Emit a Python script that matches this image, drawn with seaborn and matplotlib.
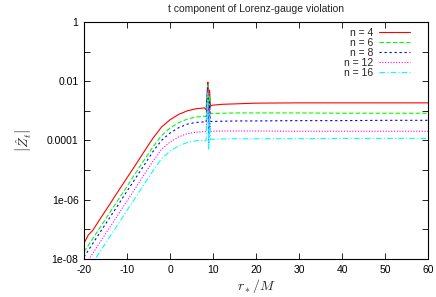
import numpy as np
import pandas as pd
import seaborn as sb
import matplotlib
matplotlib.use("Agg")
import matplotlib.pyplot as plt
from matplotlib.ticker import FixedLocator, NullFormatter

# r_*/M sample points
r = [-20, -19, -18, -16, -14, -12, -10, -8, -6, -4, -2, 0, 2, 4, 6, 8,
     8.4, 8.6, 8.8, 9.0, 9.2, 9.4, 9.8, 12, 16, 20, 30, 40, 50, 60]

# log10 |Z_t|
n4 = [-7.47, -7.19, -7.04, -6.59, -6.15, -5.70, -5.26, -4.82, -4.37, -3.93, -3.55, -3.30, -3.12, -3.00, -2.93, -2.90,
      -2.96, -2.45, -2.03, -3.55, -2.30, -2.85, -2.81, -2.78, -2.76, -2.74, -2.73, -2.73, -2.73, -2.73]
n6 = [-7.76, -7.54, -7.32, -6.88, -6.43, -5.99, -5.55, -5.10, -4.66, -4.22, -3.84, -3.58, -3.40, -3.28, -3.21, -3.18,
      -3.20, -2.60, -2.13, -3.70, -2.50, -3.10, -3.09, -3.08, -3.07, -3.07, -3.07, -3.08, -3.08, -3.08]
n8 = [-7.93, -7.71, -7.49, -7.04, -6.60, -6.16, -5.71, -5.27, -4.83, -4.38, -4.00, -3.75, -3.57, -3.45, -3.39, -3.37,
      -3.38, -2.80, -2.20, -3.90, -2.70, -3.36, -3.36, -3.35, -3.34, -3.34, -3.33, -3.33, -3.32, -3.32]
n12 = [-8.26, -8.04, -7.82, -7.37, -6.93, -6.49, -6.04, -5.60, -5.15, -4.71, -4.30, -4.05, -3.88, -3.77, -3.72, -3.70,
       -3.71, -3.00, -2.30, -4.10, -2.90, -3.69, -3.69, -3.68, -3.68, -3.68, -3.69, -3.69, -3.69, -3.69]
n16 = [-8.58, -8.36, -8.14, -7.69, -7.25, -6.81, -6.36, -5.92, -5.47, -5.03, -4.62, -4.36, -4.18, -4.07, -4.01, -3.99,
       -4.00, -3.20, -2.40, -4.32, -3.10, -3.96, -3.96, -3.95, -3.94, -3.94, -3.94, -3.93, -3.93, -3.93]

labels = ["n = 4", "n = 6", "n = 8", "n = 12", "n = 16"]
series = [n4, n6, n8, n12, n16]
colors = ["#ff0000", "#00ff00", "#0000ff", "#ff00ff", "#00ffff"]
dash_styles = ["", (4, 2), (2, 2.5), (1, 1.5), (5, 2, 1, 2)]

df = pd.concat(
    [pd.DataFrame({"r": r, "Z": 10 ** np.array(v), "n": lab}) for lab, v in zip(labels, series)],
    ignore_index=True,
)

sb.set_style("ticks")
plt.rcParams["font.family"] = ["Liberation Sans", "DejaVu Sans"]
plt.rcParams["mathtext.fontset"] = "cm"
plt.rcParams["axes.unicode_minus"] = False

fig = plt.figure(figsize=(4.36, 2.97), dpi=100)
ax = fig.add_axes([0.1927, 0.128, 0.789, 0.798])

sb.lineplot(
    data=df, x="r", y="Z", hue="n", style="n",
    palette=dict(zip(labels, colors)),
    dashes=dict(zip(labels, dash_styles)),
    estimator=None, linewidth=0.8, ax=ax,
)

ax.set_yscale("log")
ax.set_xlim(-20, 60)
ax.set_ylim(1e-8, 1)
ax.xaxis.set_major_locator(FixedLocator(range(-20, 61, 10)))
ax.yaxis.set_major_locator(FixedLocator([1e-8, 1e-6, 1e-4, 1e-2, 1]))
ax.yaxis.set_minor_locator(FixedLocator([1e-7, 1e-5, 1e-3, 1e-1]))
ax.yaxis.set_minor_formatter(NullFormatter())
ax.set_yticklabels(["1e-08", "1e-06", "0.0001", "0.01", "1"])
ax.tick_params(which="both", direction="in", top=True, right=True, labelsize=7.5,
               length=4, width=0.6, pad=4, colors="black")
for s in ax.spines.values():
    s.set_linewidth(0.8)
    s.set_color("black")

ax.set_title("t component of Lorenz-gauge violation", fontsize=7.5, pad=7)
ax.set_xlabel(r"$r_*/M$", fontsize=10, labelpad=2)
ax.set_ylabel(r"$\left|\hat{Z}_t\right|$", fontsize=10, labelpad=10)

leg = ax.legend(loc="upper right", bbox_to_anchor=(0.97, 1.005), frameon=False, fontsize=7.5,
                markerfirst=False, handlelength=3.0, labelspacing=0.0, borderaxespad=0.3,
                handletextpad=0.6)
for t in leg.get_texts():
    t.set_ha("right")

plt.savefig("out.png", dpi=100)
